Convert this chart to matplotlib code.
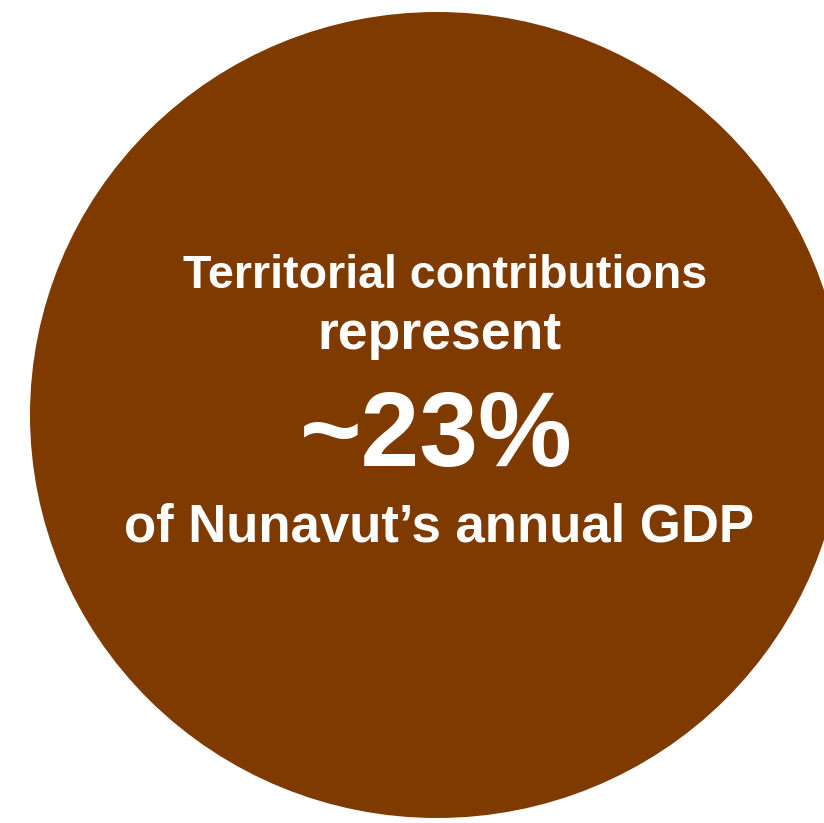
import matplotlib
matplotlib.use("Agg")
import matplotlib.pyplot as plt
from matplotlib.patches import Ellipse

# Chart content
share_pct = 23
headline_lines = ["Territorial contributions", "represent"]
big_value = f"~{share_pct}%"
footer_line = "of Nunavut\u2019s annual GDP"

circle_color = "#7F3A00"

fig = plt.figure(figsize=(8.24, 8.23), dpi=100)
ax = fig.add_axes([0, 0, 1, 1])
ax.set_xlim(0, 824)
ax.set_ylim(823, 0)
ax.set_aspect("equal")
ax.axis("off")

# Big brown disc (slightly wide, runs off the right edge like the original)
ax.add_patch(Ellipse((437, 415), 814, 806, color=circle_color, lw=0))

font = dict(family=["Liberation Sans", "DejaVu Sans"], weight="bold",
            color="white", ha="center", va="baseline")

ax.text(445, 288, headline_lines[0], fontsize=33.5, **font)
ax.text(439, 349, headline_lines[1], fontsize=38.5, **font)
ax.text(436, 466, big_value, fontsize=76, **font)
ax.text(439, 541, footer_line, fontsize=38, **font)

plt.savefig("out.png", dpi=100)
plt.close()
